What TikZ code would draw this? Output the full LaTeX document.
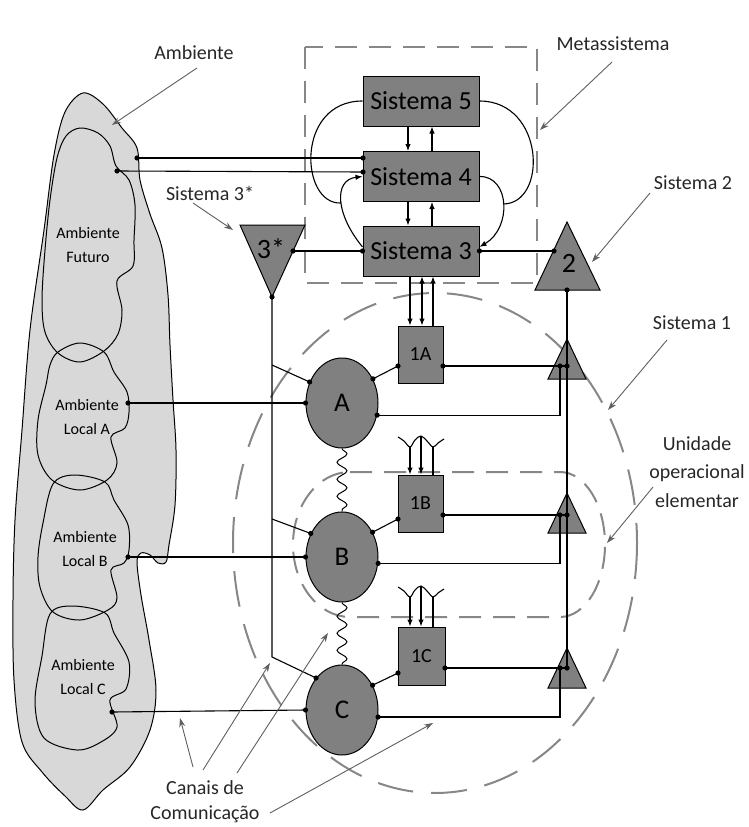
\documentclass[tikz,border=0pt]{standalone}
\usepackage{fontspec}
\setmainfont{Carlito}
\usetikzlibrary{shapes.geometric, decorations.pathmorphing, arrows.meta}

\definecolor{unitfill}{RGB}{128,128,128}
\definecolor{envfill}{RGB}{216,216,216}
\definecolor{bordergray}{RGB}{135,135,135}
\definecolor{notegray}{RGB}{95,95,95}

\tikzset{
  sysbox/.style={draw, fill=unitfill, line width=1pt, inner sep=0pt, minimum width=116pt, minimum height=50pt, font=\fontsize{26}{26}\selectfont},
  unitbox/.style={draw, fill=unitfill, line width=1pt, inner sep=0pt, minimum width=45pt, minimum height=57pt, font=\fontsize{20}{20}\selectfont},
  opunit/.style={ellipse, draw, fill=unitfill, line width=1pt, inner sep=0pt, minimum width=72pt, minimum height=90pt, font=\fontsize{27}{27}\selectfont},
  link/.style={line width=1.1pt},
  flow/.style={line width=1.1pt, -{Latex[length=7pt, width=5.5pt]}},
  twoway/.style={line width=1.1pt, {Latex[length=7pt, width=5.5pt]}-{Latex[length=7pt, width=5.5pt]}},
  note/.style={draw=notegray, line width=0.9pt, -{Stealth[length=9pt, width=6pt]}},
  bound/.style={draw=bordergray, line width=2pt, dash pattern=on 22pt off 12pt},
  spring/.style={line width=1pt, decorate, decoration={snake, amplitude=5pt, segment length=17pt}},
  tag/.style={inner sep=0pt, align=center, text=black!85, font=\fontsize{20}{25}\selectfont},
  envtag/.style={inner sep=0pt, align=center, font=\fontsize{16}{24.5}\selectfont},
  bigtag/.style={inner sep=0pt, font=\fontsize{28}{28}\selectfont}
}

\begin{document}
\begin{tikzpicture}[x=1pt, y=1pt, yscale=-1]
\useasboundingbox (0,0) rectangle (749,827);
%Ambiente
\draw [fill=envfill, line width=1pt] plot [smooth cycle, tension=0.55] coordinates {(83,93) (103,104) (122,128) (137,148) (140,180) (150,214) (162,248) (168,295) (170,345) (173,400) (176,450) (175,505) (169,545) (166,562) (158,563) (150,555) (141,553) (137,562) (141,595) (149,640) (156,690) (150,730) (130,767) (103,790) (83,810) (65,796) (42,772) (22,742) (14,680) (13,600) (15,520) (22,430) (30,330) (44,230) (54,155) (65,112)};
\draw [line width=1pt] plot [smooth cycle, tension=0.55] coordinates {(80,128) (98,133) (110,146) (116,166) (129,180) (135,205) (134,240) (133,266) (117,281) (122,310) (118,334) (104,351) (80,362) (58,353) (45,332) (42,300) (45,250) (50,200) (57,158) (66,136)};
\draw [line width=1pt] plot [smooth cycle, tension=0.55] coordinates {(58,352) (80,343) (104,352) (114,372) (127,392) (129,412) (125,428) (111,437) (117,463) (107,480) (80,490) (52,480) (38,455) (38,420) (46,385) (50,365)};
\draw [line width=1pt] plot [smooth cycle, tension=0.55] coordinates {(53,484) (74,475) (105,482) (114,500) (128,525) (129,550) (124,563) (111,570) (117,598) (108,610) (80,620) (53,612) (40,587) (38,557) (43,523)};
\draw [line width=1pt] plot [smooth cycle, tension=0.55] coordinates {(50,614) (72,606) (105,613) (114,633) (129,662) (126,689) (110,700) (117,727) (101,742) (77,750) (44,738) (35,702) (42,656)};
%Boundaries
\draw [bound] (305,47) rectangle (537,283);
\draw [bound, dash pattern=on 36pt off 18pt] (435,543) ellipse (202 and 250);
\draw [bound] (350,472) -- (560,472) arc (-90:90:45 and 72.5) -- (350,617) arc (90:270:57 and 72.5);
%Triangles
\draw [fill=unitfill, line width=1pt] (240,225) -- (305,225) -- (272,297) -- cycle;
\draw [fill=unitfill, line width=1pt] (567,222) -- (600,290) -- (535,290) -- cycle;
\foreach \ty in {339, 493, 648}
  \draw [fill=unitfill, line width=1pt] (567,\ty) -- (586,\ty+40) -- (548,\ty+40) -- cycle;
%Units
\node [sysbox] (s5) at (421,101) {Sistema 5};
\node [sysbox] (s4) at (421,176.5) {Sistema 4};
\node [sysbox] (s3) at (421,251) {Sistema 3};
\node [opunit] (opA) at (342,403) {A};
\node [opunit] (opB) at (342,557) {B};
\node [opunit] (opC) at (342,710) {C};
\node [unitbox] (u1A) at (420.5,354.5) {1A};
\node [unitbox] (u1B) at (420.5,503.5) {1B};
\node [unitbox, minimum width=47pt, minimum height=58pt] (u1C) at (421.5,656) {1C};
\node [bigtag] (t3txt) at (271,249) {3*};
\node [bigtag] (t2txt) at (569,263) {2};
\node [envtag] (envFutTxt) at (88,245) {Ambiente\\Futuro};
\node [envtag] (envATxt) at (87,417) {Ambiente\\Local A};
\node [envtag] (envBTxt) at (85,549) {Ambiente\\Local B};
\node [envtag] (envCTxt) at (83,677) {Ambiente\\Local C};
%Points
\coordinate (envTop) at (137,158);
\coordinate (envFut) at (117,171);
\coordinate (s4a) at (363,158);
\coordinate (s4b) at (363,172);
\coordinate (locA) at (128,403);
\coordinate (locB) at (128,557);
\coordinate (locC) at (112,712);
\coordinate (tsR) at (293,251);
\coordinate (tsB) at (272,297);
\coordinate (tsE) at (272,657);
\coordinate (tdL) at (554,251);
\coordinate (tdB) at (567,290);
\coordinate (brA) at (272,365);
\coordinate (brB) at (272,519);
\coordinate (uAW) at (398,366);
\coordinate (uAE) at (443,366);
\coordinate (uBW) at (398,519);
\coordinate (uBE) at (443,515);
\coordinate (uCW) at (398,673);
\coordinate (uCE) at (445,668);
\coordinate (tAi) at (560,366);
\coordinate (tAo) at (567,366);
\coordinate (tBi) at (560,515);
\coordinate (tBo) at (567,515);
\coordinate (tCi) at (560,668);
\coordinate (tCo) at (567,668);
\coordinate (lpL) at (341,203);
\coordinate (lpR) at (503,204);
%Metassistema links
\draw [flow] (s5.south -| 408,0) -- (s4.north -| 408,0);
\draw [flow] (s4.north -| 432,0) -- (s5.south -| 432,0);
\draw [flow] (s4.south -| 408,0) -- (s3.north -| 408,0);
\draw [flow] (s3.north -| 432,0) -- (s4.south -| 432,0);
\draw [link] (s5.west) .. controls (295,101) and (300,205) .. (lpL);
\draw [flow] (s3.176) .. controls (336,215) and (333,180) .. (s4.west);
\draw [link] (s5.east) .. controls (545,101) and (548,204) .. (lpR);
\draw [flow] (s4.east) .. controls (510,176) and (512,228) .. (s3.4);
\draw [link] (envTop) -- (s4a);
\draw [link] (envFut) -- (s4b);
\draw [link] (s3.west) -- (tsR);
\draw [link] (s3.east) -- (tdL);
%Sistema 3 to 1A
\draw [flow] (s3.south -| 410,0) -- (u1A.north -| 410,0);
\draw [twoway] (s3.south -| 422,0) -- (u1A.north -| 422,0);
\draw [flow] (u1A.north -| 433,0) -- (s3.south -| 433,0);
%Channels into 1B and 1C
\foreach \cy/\un in {0/u1B, 150/u1C} {
  \draw [link] plot [smooth, tension=0.6] coordinates {(398,437+\cy) (404,441+\cy) (410,447+\cy) (415,440+\cy) (421,436+\cy) (427,441+\cy) (433,447+\cy) (438,443+\cy) (444,439+\cy)};
  \draw [flow] (410,447+\cy) -- (\un.north -| 410,0);
  \draw [flow] (421,436+\cy) -- (\un.north -| 421,0);
  \draw [link] (433,447+\cy) -- (\un.north -| 433,0);
}
%Environment links
\draw [link] (locA) -- (opA.west);
\draw [link] (locB) -- (opB.west);
\draw [link] (locC) -- (opC.west);
%Sistema 3* links
\draw [link] (tsB) -- (tsE) -- (opC.129);
\draw [link] (brA) -- (opA.147);
\draw [link] (brB) -- (opB.143);
%Sistema 2 links
\draw [link] (tdB) -- (tCo);
\draw [link] (opA.38) -- (uAW);
\draw [link] (uAE) -- (tAo);
\draw [link] (opA.-19) -- (opA.-19 -| tAi) -- (tAi);
\draw [link] (opB.39) -- (uBW);
\draw [link] (uBE) -- (tBo);
\draw [link] (opB.-10) -- (opB.-10 -| tBi) -- (tBi);
\draw [link] (opC.39) -- (uCW);
\draw [link] (uCE) -- (tCo);
\draw [link] (opC.-11) -- (opC.-11 -| tCi) -- (tCi);
%Springs
\draw [spring] (opA.south) -- (opB.north);
\draw [spring] (opB.south) -- (opC.north);
%Dots
\foreach \p in {envTop, envFut, s4a, s4b, locA, locB, locC, tsR, tsB, tdL, tdB, uAW, uAE, uBW, uBE, uCW, uCE, tAi, tAo, tBi, tBo, tCi, tCo, s3.west, s3.east, opA.west, opB.west, opC.west, opA.147, opB.143, opC.129, opA.38, opB.39, opC.39, opA.-19, opB.-10, opC.-11}
  \fill (\p) circle (2.6);
%Text
\node [tag] (lblAmb) at (194,53) {Ambiente};
\node [tag] (lblMeta) at (613,44) {Metassistema};
\node [tag] (lblS3s) at (210,193) {Sistema 3*};
\node [tag] (lblS2) at (693,183) {Sistema 2};
\node [tag] (lblS1) at (692,323) {Sistema 1};
\node [tag, font=\fontsize{20}{28.5}\selectfont] (lblUnid) at (697,472) {Unidade\\operacional\\elementar};
\node [tag] (lblCanais) at (205,802) {Canais de\\Comunicação};
%Notes
\coordinate (nAmb) at (197,68);
\coordinate (nS3s) at (193,203);
\coordinate (nMeta) at (612,62);
\coordinate (nS2) at (650,193);
\coordinate (nS1) at (667,340);
\coordinate (nUnid) at (653,487);
\coordinate (nC1) at (193,767);
\coordinate (nC2) at (203,770);
\coordinate (nC3) at (237,773);
\coordinate (nC4) at (270,813);
\draw [note] (nAmb) -- (112,125);
\draw [note] (nS3s) -- (233,230);
\draw [note] (nMeta) -- (540,130);
\draw [note] (nS2) -- (592,262);
\draw [note] (nS1) -- (608,410);
\draw [note] (nUnid) -- (607,543);
\draw [note] (nC1) -- (180,718);
\draw [note] (nC2) -- (270,663);
\draw [note] (nC3) -- (328,633);
\draw [note] (nC4) -- (433,723);
\end{tikzpicture}
\end{document}
